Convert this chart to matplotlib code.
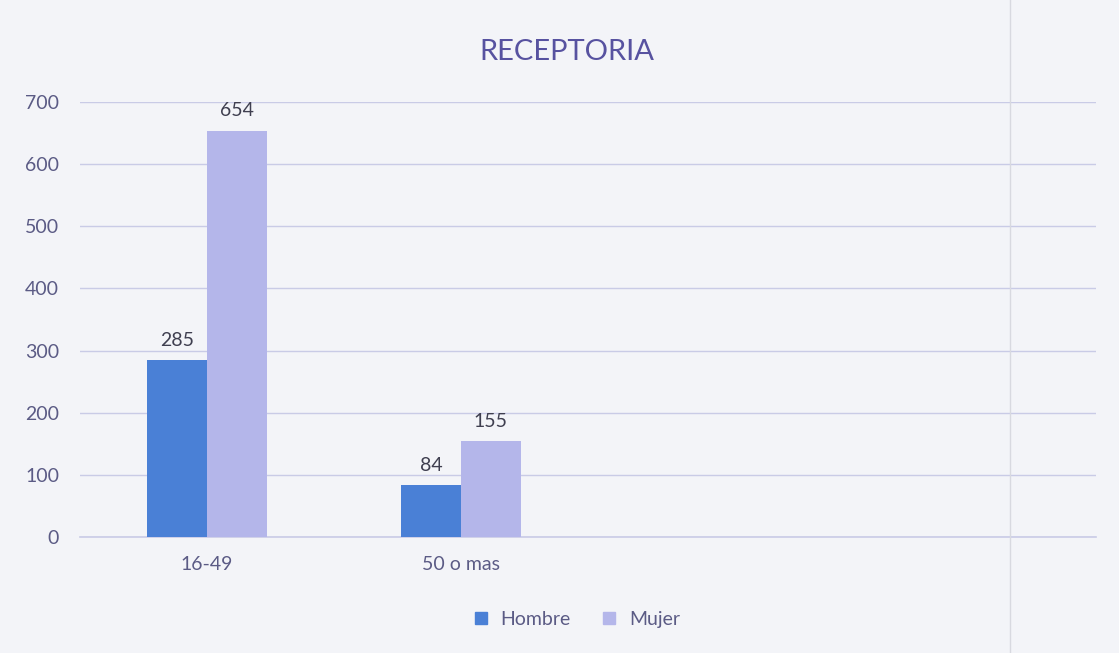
import matplotlib
matplotlib.use("Agg")
import matplotlib.pyplot as plt
from matplotlib.lines import Line2D
import numpy as np

categories = ["16-49", "50 o mas", "", ""]
hombre = [285, 84]
mujer = [654, 155]
yticks = [0, 100, 200, 300, 400, 500, 600, 700]

plt.rcParams['font.family'] = ['Lato', 'DejaVu Sans']
text_color = "#5b5b85"
c_h = "#4a80d6"
c_m = "#b4b6ea"

fig = plt.figure(figsize=(11.19, 6.53), dpi=100)
fig.patch.set_facecolor("#f3f4f8")
ax = fig.add_axes([0.0715, 0.1776, 0.9075, 0.6662])
ax.set_facecolor("#f3f4f8")

x = np.arange(len(hombre))
w = 0.236
bh = ax.bar(x - w/2, hombre, w, color=c_h, label="Hombre", zorder=3)
bm = ax.bar(x + w/2, mujer, w, color=c_m, label="Mujer", zorder=3)
for rects, vals in ((bh, hombre), (bm, mujer)):
    for r, v in zip(rects, vals):
        ax.text(r.get_x() + r.get_width()/2, v + 18, str(v), ha="center", va="bottom",
                fontsize=14, color="#3f3f50")

ax.set_xlim(-0.5, len(categories) - 0.5)
ax.set_ylim(0, 700)
ax.set_yticks(yticks)
ax.set_xticks(range(len(categories)))
ax.set_xticklabels(categories)
ax.grid(axis="y", color="#c9cbe6", linewidth=1, zorder=0)
ax.axhline(0, color="#c9cbe6", linewidth=1.2, zorder=2, clip_on=False)
for s in ax.spines.values():
    s.set_visible(False)
ax.tick_params(axis="both", length=0, labelsize=14, labelcolor=text_color)
ax.tick_params(axis="y", pad=15)
ax.tick_params(axis="x", pad=14)

fig.text(0.507, 0.92, "RECEPTORIA", ha="center", va="center", fontsize=21, color="#5752a0")

handles = [Line2D([], [], marker="s", linestyle="", markersize=9, color=c_h),
           Line2D([], [], marker="s", linestyle="", markersize=9, color=c_m)]
fig.legend(handles, ["Hombre", "Mujer"], loc="center", bbox_to_anchor=(0.51, 0.052),
           ncol=2, frameon=False, fontsize=14, labelcolor=text_color,
           handletextpad=0.0, columnspacing=1.0)

# scanned page edge line
fig.add_artist(Line2D([0.903, 0.903], [0, 1], transform=fig.transFigure, color="#d8d9e0", linewidth=1))

fig.savefig("out.png", dpi=100, facecolor=fig.get_facecolor())
